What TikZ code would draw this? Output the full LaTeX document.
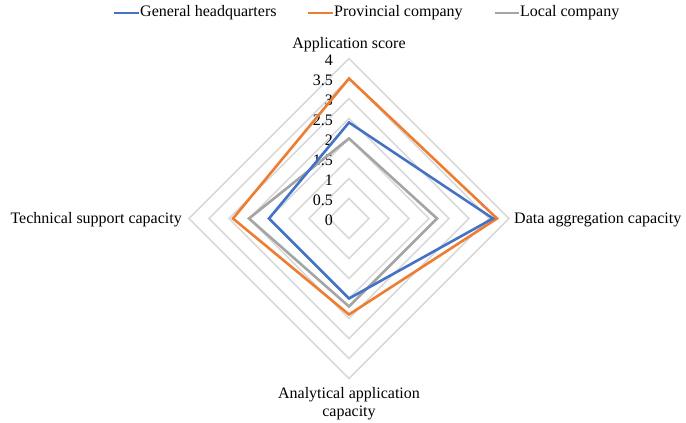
\documentclass[tikz,border=0pt]{standalone}
\usepackage{fontspec}
\setmainfont{Liberation Serif}
\begin{document}
\begin{tikzpicture}[x=1pt,y=-1pt,
  lbl/.style={font=\fontsize{16}{18}\selectfont, inner sep=0pt},
  tick/.style={lbl, anchor=east},
  gridring/.style={draw=black!15, line width=1.5pt},
  series/.style={line width=2.6pt, line join=miter},
  ghq/.style={series, draw={rgb,255:red,68;green,114;blue,196}},
  prov/.style={series, draw={rgb,255:red,237;green,125;blue,49}},
  loc/.style={series, draw={rgb,255:red,165;green,165;blue,165}}]
\useasboundingbox (0,0) rectangle (686,423);
\def\cx{349}
\def\cy{218.5}
\coordinate (c) at (\cx,\cy);
% grid rings
\foreach \r in {20,40,...,160}
  \draw[gridring] ({\cx},{\cy-\r}) -- ({\cx+\r},{\cy}) -- ({\cx},{\cy+\r}) -- ({\cx-\r},{\cy}) -- cycle;
% tick labels
\foreach \v/\t in {0/0,0.5/0.5,1/1,1.5/1.5,2/2,2.5/2.5,3/3,3.5/3.5,4/4}
  \node[tick] (t\v) at ({333},{\cy-40*\v+2}) {\t};
% series: local company
\coordinate (lT) at ({\cx},{\cy-40*2.0});
\coordinate (lR) at ({\cx+40*2.2},{\cy});
\coordinate (lB) at ({\cx},{\cy+40*2.2});
\coordinate (lL) at ({\cx-40*2.5},{\cy});
\draw[loc] (lT) -- (lR) -- (lB) -- (lL) -- cycle;
% provincial company
\coordinate (pT) at ({\cx},{\cy-40*3.5});
\coordinate (pR) at ({\cx+40*3.7},{\cy});
\coordinate (pB) at ({\cx},{\cy+40*2.4});
\coordinate (pL) at ({\cx-40*2.9},{\cy});
\draw[prov] (pT) -- (pR) -- (pB) -- (pL) -- cycle;
% general headquarters
\coordinate (gT) at ({\cx},{\cy-40*2.4});
\coordinate (gR) at ({\cx+40*3.6},{\cy});
\coordinate (gB) at ({\cx},{\cy+40*2.0});
\coordinate (gL) at ({\cx-40*2.0},{\cy});
\draw[ghq] (gT) -- (gR) -- (gB) -- (gL) -- cycle;
% axis labels
\node[lbl] (axT) at (349,45) {Application score};
\node[lbl, anchor=east] (axL) at (182,220) {Technical support capacity};
\node[lbl, anchor=west] (axR) at (514,220) {Data aggregation capacity};
\node[lbl, align=center] (axB) at (349,404) {Analytical application\\capacity};
% legend
\coordinate (l1a) at (114,13); \coordinate (l1b) at (139,13);
\draw[ghq] (l1a) -- (l1b);
\node[lbl, anchor=west] (lg1) at (140,13) {General headquarters};
\coordinate (l2a) at (308,13); \coordinate (l2b) at (333,13);
\draw[prov] (l2a) -- (l2b);
\node[lbl, anchor=west] (lg2) at (334,13) {Provincial company};
\coordinate (l3a) at (495,13); \coordinate (l3b) at (519,13);
\draw[loc] (l3a) -- (l3b);
\node[lbl, anchor=west] (lg3) at (520,13) {Local company};
\end{tikzpicture}
\end{document}
